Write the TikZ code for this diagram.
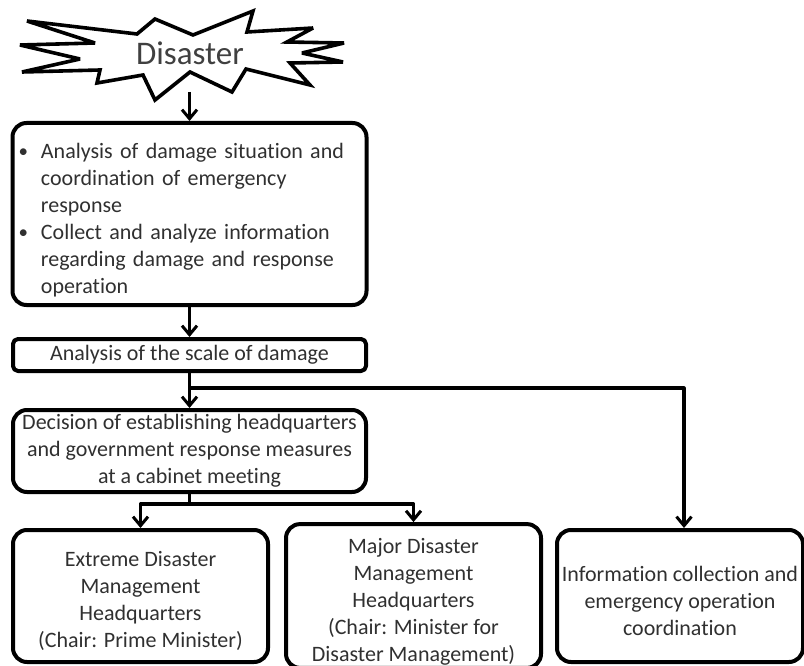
\documentclass[tikz,border=0pt]{standalone}
\usepackage{fontspec}
\setmainfont{Carlito}[Ligatures=NoCommon]
\usetikzlibrary{arrows.meta}
\definecolor{ink}{HTML}{303030}
\newcommand{\topgap}{\rule{0pt}{26pt}}
\newcommand{\itemdot}{\raisebox{1.5pt}{\fontsize{19}{19}\selectfont\textbullet}}
\begin{document}
\begin{tikzpicture}[x=1pt,y=-1pt,line join=round,
  font=\fontsize{22}{27}\selectfont,text=ink,
  box/.style={draw,line width=4pt,rounded corners=14pt,inner sep=3pt,align=center},
  flow/.style={line width=3.2pt,-{Straight Barb[length=9pt,width=15pt,line width=3pt]}}]
\useasboundingbox (0,0) rectangle (804,666);
% burst
\draw[line width=3.6pt,line join=miter,miter limit=4]
  (27,21) -- (137,34) -- (155,19) -- (193,35) -- (253,11) -- (247,32)
  -- (313,28) -- (287,42) -- (344,43) -- (302,53) -- (343,62) -- (290,63)
  -- (310,85) -- (246,69) -- (232,92) -- (190,72) -- (155,100) -- (143,75)
  -- (97,83) -- (100,70) -- (22,72) -- (80,59) -- (20,45) -- (95,43) -- cycle;
\node[text={rgb,255:red,64;green,64;blue,64}] (disaster) at (190,53) {\fontsize{33}{38}\selectfont Disaster};
\coordinate (burst) at (189.5,92);
% left column
\node[box,minimum width=354pt,minimum height=168pt,text width=346pt,align=left]
  (situation) at (189.5,214) {%
  \begin{tabular}{@{\hspace{2pt}}l@{\hspace{13pt}}l@{}}
  \noalign{\vskip 14pt}
  \itemdot & Analysis of damage situation and\\
   & coordination of emergency\\
   & response\\
  \itemdot & Collect and analyze information\\
   & regarding damage and response\\
   & operation
  \end{tabular}};
\node[box,rounded corners=5pt,minimum width=353pt,minimum height=32pt]
  (scale) at (189.5,355) {Analysis of the scale of damage};
\node[box,minimum width=353pt,minimum height=82pt]
  (decision) at (189.5,451) {Decision of establishing headquarters\\
  and government response measures\\ at a cabinet meeting};
% bottom row
\node[box,minimum width=255pt,minimum height=132pt]
  (extreme) at (140.5,596) {\topgap Extreme Disaster\\ Management\\ Headquarters\\ (Chair: Prime Minister)};
\node[box,minimum width=255pt,minimum height=132pt]
  (major) at (413.5,596) {\topgap Major Disaster\\ Management\\ Headquarters\\ (Chair: Minister for\\ Disaster Management)};
\node[box,minimum width=246pt,minimum height=132pt]
  (info) at (680,596) {\topgap Information collection and\\ emergency operation\\ coordination};
% arrows
\draw[flow] (burst) -- (situation);
\draw[flow] (situation) -- (scale);
\draw[flow] (scale) -- (decision);
\coordinate (split) at (189.5,388);
\draw[flow] (split) -| ([xshift=4pt]info.north);
\draw[line width=3.2pt] (decision.south) -- ++(0,10) coordinate (fork);
\draw[flow] (fork) -| (extreme);
\draw[flow] (fork) -| (major);
\end{tikzpicture}
\end{document}
